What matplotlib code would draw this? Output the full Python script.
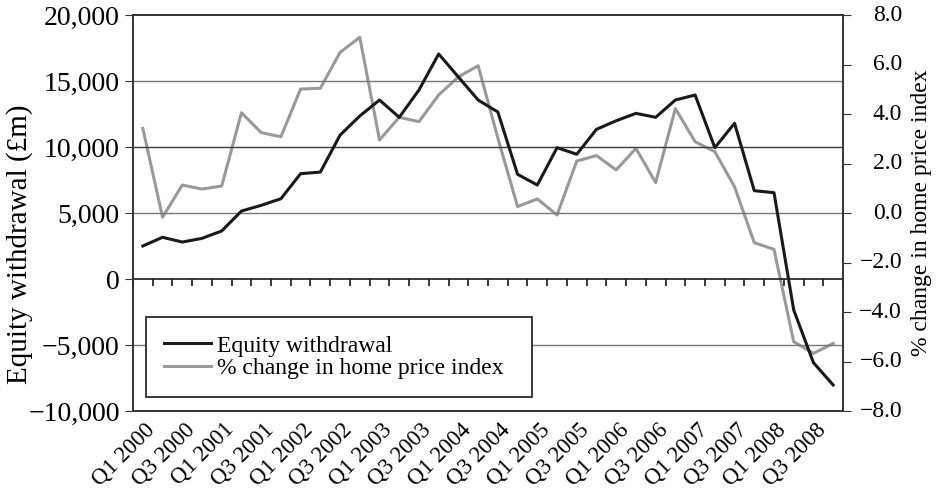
import matplotlib
matplotlib.use("Agg")
import matplotlib.pyplot as plt
import matplotlib.transforms as mtransforms
import numpy as np

plt.rcParams["font.family"] = ["Liberation Serif", "DejaVu Serif"]
plt.rcParams["font.size"] = 17

# quarters Q1 2000 .. Q4 2008
quarters = [f"Q{q} {y}" for y in range(2000, 2009) for q in range(1, 5)]

equity_withdrawal = [
    2500, 3160, 2800, 3080, 3640, 5150, 5580, 6080,
    7980, 8100, 10900, 12350, 13560, 12250, 14320, 17050,
    15300, 13560, 12650, 7930, 7120, 9950, 9450, 11340,
    11990, 12550, 12250, 13560, 13940, 9950, 11800, 6690,
    6540, -2350, -6340, -8030,
]

price_change = [
    3.42, -0.17, 1.13, 0.97, 1.09, 4.05, 3.25, 3.08,
    5.01, 5.04, 6.49, 7.10, 2.95, 3.87, 3.69, 4.77,
    5.50, 5.95, 3.03, 0.26, 0.57, -0.08, 2.10, 2.32,
    1.74, 2.61, 1.23, 4.22, 2.88, 2.48, 1.06, -1.20,
    -1.47, -5.20, -5.67, -5.27,
]

left_ticks = [-10000, -5000, 0, 5000, 10000, 15000, 20000]
right_ticks = [-8.0, -6.0, -4.0, -2.0, 0.0, 2.0, 4.0, 6.0, 8.0]

x = np.arange(len(quarters))

fig = plt.figure(figsize=(9.39, 4.92), dpi=100)
ax = fig.add_axes([0.1416, 0.1646, 0.7562, 0.8049])
ax2 = ax.twinx()

# horizontal gridlines (the 10,000 one prints darker in the original)
for v in left_ticks[1:-1]:
    if v == 0:
        continue
    ax.axhline(v, color="#3a3a3a" if v == 10000 else "#777777", lw=1.0, zorder=0)

ax.plot(x, equity_withdrawal, color="#1a1a1a", lw=2.2, label="Equity withdrawal", zorder=3)
ax2.plot(x, price_change, color="#999999", lw=2.2, zorder=2)
ax.plot([], [], color="#999999", lw=2.2, label="% change in home price index")

ax.tick_params(axis="x", length=0, pad=11)
ax.tick_params(axis="y", direction="out", length=6, color="#333333")
ax2.tick_params(axis="y", direction="out", length=6, color="#333333", labelright=False)

ax.set_xlim(-0.5, len(quarters) - 0.5)
ax.set_ylim(-10000, 20000)
ax.set_yticks(left_ticks)
ax.set_yticklabels([f"{v:,}".replace("-", "\u2212") for v in left_ticks], fontsize=20)

ax2.set_ylim(-8, 8)
ax2.set_yticks(right_ticks)
# right-hand labels are right-aligned, Excel style
for v in right_ticks:
    ax2.text(1.0831, v, f"{v:.1f}".replace("-", "\u2212"), transform=ax2.get_yaxis_transform(),
             ha="right", va="center", fontsize=17, clip_on=False)

fig.text(20 / 939, 1 - 244 / 492, "Equity withdrawal (\u00a3m)", rotation=90,
         ha="center", va="center", fontsize=21)
fig.text(922 / 939, 1 - 213 / 492, "% change in home price index", rotation=90,
         ha="center", va="center", fontsize=17)

# labels every other quarter at the bottom
ax.set_xticks(x[::2])
ax.set_xticklabels(quarters[::2], rotation=45, ha="right", va="center",
                   rotation_mode="anchor", fontsize=16.5)
shift_x = mtransforms.ScaledTranslation(9 / 100, 0, fig.dpi_scale_trans)
for lab in ax.get_xticklabels():
    lab.set_transform(lab.get_transform() + shift_x)

# category axis crossing at zero, tick marks between categories
zero_pos = (0 - (-10000)) / 30000
secax = ax.secondary_xaxis(zero_pos)
secax.set_xticks(np.arange(len(quarters) + 1) - 0.5)
secax.tick_params(axis="x", direction="out", length=5, labelbottom=False,
                  labeltop=False, color="#1a1a1a", width=1.2)
for sp in secax.spines.values():
    sp.set_color("#1a1a1a")
    sp.set_linewidth(1.2)

for a in (ax, ax2):
    for sp in a.spines.values():
        sp.set_color("#333333")
        sp.set_linewidth(1.2)

leg = ax.legend(loc="lower left", bbox_to_anchor=(0.0183, 0.0354, 0.5437, 0.2), mode="expand",
                borderaxespad=0, frameon=True, fancybox=False, edgecolor="#1a1a1a",
                framealpha=1.0, handlelength=2.0, borderpad=0.75, labelspacing=0.05,
                handletextpad=0.25, fontsize=17)
leg.get_frame().set_linewidth(1.2)
leg.set_zorder(10)
ax.set_zorder(ax2.get_zorder() + 1)
ax.patch.set_visible(False)

fig.savefig("out.png", dpi=100)
